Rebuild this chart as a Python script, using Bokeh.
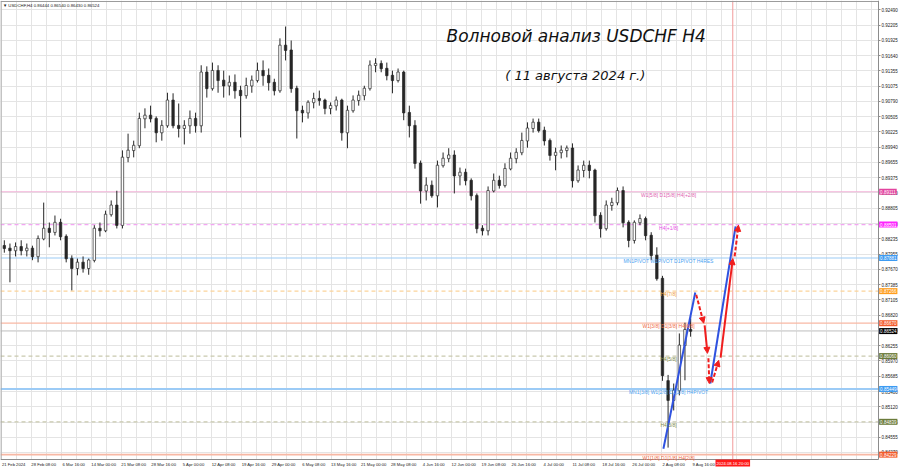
from bokeh.plotting import figure
from bokeh.models import (Range1d, LinearAxis, FixedTicker, PrintfTickFormatter,
                          Label, ColumnDataSource, Arrow, NormalHead)
from bokeh.embed import file_html
from bokeh.resources import INLINE

# ---------------- data (daily OHLC, 6 H4 bars per day) ----------------
BARS_PER_DAY = 6
opens = [0.8811, 0.8806, 0.8802, 0.8809, 0.8802, 0.8806, 0.8791, 0.8824, 0.8843, 0.8836,
         0.8854, 0.8828, 0.8787, 0.8769, 0.8780, 0.8769, 0.8784, 0.8843, 0.8839, 0.8869,
         0.8886, 0.8849, 0.8975, 0.8988, 0.8997, 0.9047, 0.9053, 0.9047, 0.9021, 0.9034,
         0.9081, 0.9034, 0.9029, 0.9034, 0.9047, 0.9034, 0.9133, 0.9103, 0.9136, 0.9118,
         0.9108, 0.9114, 0.9099, 0.9090, 0.9108, 0.9118, 0.9136, 0.9127, 0.9114, 0.9099,
         0.9183, 0.9174, 0.9103, 0.9062, 0.9058, 0.9077, 0.9084, 0.9081, 0.9066, 0.9071,
         0.9081, 0.9021, 0.9062, 0.9081, 0.9090, 0.9103, 0.9146, 0.9149, 0.9140, 0.9127,
         0.9118, 0.9133, 0.9058, 0.9034, 0.8964, 0.8913, 0.8923, 0.8904, 0.8960, 0.8973,
         0.8979, 0.8941, 0.8947, 0.8932, 0.8904, 0.8843, 0.8839, 0.8913, 0.8932, 0.8923,
         0.8954, 0.8973, 0.8984, 0.9006, 0.9029, 0.9040, 0.9025, 0.9006, 0.8979, 0.8984,
         0.8988, 0.8992, 0.8932, 0.8951, 0.8960, 0.8951, 0.8867, 0.8843, 0.8886, 0.8891,
         0.8913, 0.8854, 0.8821, 0.8854, 0.8861, 0.8830, 0.8793, 0.8750, 0.8560, 0.8524,
         0.8542, 0.8626, 0.8655]
highs = [0.8821, 0.8815, 0.8817, 0.8821, 0.8815, 0.8811, 0.8830, 0.8891, 0.8854, 0.8867,
         0.8861, 0.8832, 0.8793, 0.8787, 0.8791, 0.8787, 0.8849, 0.8854, 0.8876, 0.8895,
         0.8913, 0.8988, 0.9019, 0.9006, 0.9058, 0.9066, 0.9071, 0.9051, 0.9044, 0.9095,
         0.9094, 0.9075, 0.9044, 0.9062, 0.9058, 0.9146, 0.9144, 0.9151, 0.9146, 0.9136,
         0.9127, 0.9129, 0.9108, 0.9123, 0.9127, 0.9151, 0.9155, 0.9140, 0.9121, 0.9196,
         0.9218, 0.9192, 0.9108, 0.9071, 0.9081, 0.9095, 0.9099, 0.9084, 0.9077, 0.9088,
         0.9084, 0.9071, 0.9090, 0.9099, 0.9108, 0.9155, 0.9159, 0.9155, 0.9151, 0.9136,
         0.9140, 0.9136, 0.9071, 0.9044, 0.8969, 0.8938, 0.8932, 0.8969, 0.8984, 0.8992,
         0.8988, 0.8956, 0.8954, 0.8936, 0.8908, 0.8849, 0.8921, 0.8945, 0.8941, 0.8964,
         0.8984, 0.8992, 0.9021, 0.9040, 0.9047, 0.9047, 0.9032, 0.9010, 0.8993, 0.8997,
         0.8997, 0.9001, 0.8960, 0.8969, 0.8969, 0.8954, 0.8873, 0.8895, 0.8900, 0.8919,
         0.8921, 0.8858, 0.8858, 0.8869, 0.8865, 0.8836, 0.8808, 0.8755, 0.8571, 0.8555,
         0.8648, 0.8668, 0.8675]
lows = [0.8798, 0.8743, 0.8791, 0.8793, 0.8791, 0.8784, 0.8780, 0.8821, 0.8808, 0.8830,
        0.8821, 0.8780, 0.8728, 0.8756, 0.8761, 0.8757, 0.8780, 0.8828, 0.8836, 0.8865,
        0.8843, 0.8843, 0.8966, 0.8975, 0.8992, 0.9029, 0.9040, 0.9003, 0.9006, 0.9030,
        0.9029, 0.9012, 0.8999, 0.9019, 0.9021, 0.9021, 0.9086, 0.9099, 0.9095, 0.9086,
        0.9090, 0.9084, 0.9012, 0.9084, 0.9095, 0.9114, 0.9108, 0.9099, 0.9090, 0.9095,
        0.9155, 0.9095, 0.9010, 0.9040, 0.9047, 0.9066, 0.9071, 0.9055, 0.9055, 0.9062,
        0.9006, 0.8992, 0.9058, 0.9071, 0.9081, 0.9099, 0.9133, 0.9133, 0.9118, 0.9094,
        0.9114, 0.9044, 0.9012, 0.8954, 0.8889, 0.8895, 0.8900, 0.8882, 0.8956, 0.8966,
        0.8908, 0.8923, 0.8923, 0.8895, 0.8834, 0.8830, 0.8830, 0.8910, 0.8917, 0.8919,
        0.8951, 0.8964, 0.8979, 0.8993, 0.9021, 0.9021, 0.8997, 0.8969, 0.8951, 0.8973,
        0.8975, 0.8919, 0.8928, 0.8938, 0.8936, 0.8854, 0.8826, 0.8839, 0.8876, 0.8886,
        0.8845, 0.8808, 0.8815, 0.8849, 0.8821, 0.8784, 0.8746, 0.8560, 0.8436, 0.8505,
        0.8533, 0.8561, 0.8642]
closes = [0.8806, 0.8802, 0.8809, 0.8802, 0.8806, 0.8791, 0.8824, 0.8843, 0.8836, 0.8854,
          0.8828, 0.8787, 0.8769, 0.8780, 0.8769, 0.8784, 0.8843, 0.8839, 0.8869, 0.8886,
          0.8849, 0.8975, 0.8988, 0.8997, 0.9047, 0.9053, 0.9047, 0.9021, 0.9034, 0.9081,
          0.9034, 0.9029, 0.9034, 0.9047, 0.9034, 0.9133, 0.9103, 0.9136, 0.9118, 0.9108,
          0.9114, 0.9099, 0.9090, 0.9108, 0.9118, 0.9136, 0.9127, 0.9114, 0.9099, 0.9183,
          0.9174, 0.9103, 0.9062, 0.9058, 0.9077, 0.9084, 0.9081, 0.9066, 0.9071, 0.9081,
          0.9021, 0.9062, 0.9081, 0.9090, 0.9103, 0.9146, 0.9149, 0.9140, 0.9127, 0.9118,
          0.9133, 0.9058, 0.9034, 0.8964, 0.8913, 0.8923, 0.8904, 0.8960, 0.8973, 0.8979,
          0.8941, 0.8947, 0.8932, 0.8904, 0.8843, 0.8839, 0.8913, 0.8932, 0.8923, 0.8954,
          0.8973, 0.8984, 0.9006, 0.9029, 0.9040, 0.9025, 0.9006, 0.8979, 0.8984, 0.8988,
          0.8992, 0.8932, 0.8951, 0.8960, 0.8951, 0.8867, 0.8843, 0.8886, 0.8891, 0.8913,
          0.8854, 0.8821, 0.8854, 0.8861, 0.8830, 0.8793, 0.8750, 0.8570, 0.8524, 0.8542,
          0.8626, 0.8655, 0.86524]

# time axis: labels every 32 H4 bars, grid every 16 bars
xtick_bars = [0, 32, 64, 96, 128, 160, 192, 224, 256, 288, 320, 352, 384, 416, 448, 480,
              512, 544, 576, 608, 640, 672, 704, 736]
xtick_labels = ["21 Feb 2024", "28 Feb 08:00", "6 Mar 16:00", "14 Mar 00:00", "21 Mar 08:00",
                "28 Mar 16:00", "5 Apr 00:00", "12 Apr 08:00", "19 Apr 16:00", "29 Apr 00:00",
                "6 May 08:00", "13 May 16:00", "21 May 00:00", "28 May 08:00", "4 Jun 16:00",
                "12 Jun 00:00", "19 Jun 08:00", "26 Jun 16:00", "4 Jul 00:00", "11 Jul 08:00",
                "18 Jul 16:00", "26 Jul 00:00", "2 Aug 08:00", "9 Aug 16:00"]
ytick_vals = [0.92490, 0.92205, 0.91925, 0.91640, 0.91355, 0.91075, 0.90790, 0.90505, 0.90225,
              0.89940, 0.89655, 0.89375, 0.89090, 0.88805, 0.88520, 0.88235, 0.87955, 0.87670,
              0.87385, 0.87105, 0.86820, 0.86535, 0.86255, 0.85970, 0.85685, 0.85400, 0.85120,
              0.84835, 0.84555, 0.84270]

# Murrey / pivot levels
level_prices = [0.89111, 0.88501, 0.87881, 0.87266, 0.86670, 0.86060, 0.85449, 0.84839, 0.84229]
level_names = ["W1[5/8] D1[5/8] H4[+2/8]", "H4[+1/8]", "MN1PIVOT W1PIVOT D1PIVOT H4RES",
               "H4[7/8]", "W1[3/8] D1[3/8] H4[6/8]", "H4[5/8]",
               "MN1[3/8] W1[2/8] D1[2/8] H4PIVOT", "H4[3/8]", "W1[1/8] D1[1/8] H4[2/8]"]
level_dashed = [False, True, False, True, False, True, False, True, False]
level_widths = [1.2, 1.2, 1.2, 1.2, 1.2, 1.2, 2.0, 1.2, 1.6]
level_line_colors = ["#f3b3d9", "#f2a6f2", "#9ccbf6", "#fbd49a", "#f8b8a4", "#c9c9ae",
                     "#9ccbf6", "#c9c9ae", "#f8b8a4"]
level_box_colors = ["#e3449f", "#ff22ff", "#3d9bf2", "#ff9d1e", "#f35b2c", "#6b7b3b",
                    "#3d9bf2", "#6b7b3b", "#f35b2c"]
level_text_colors = ["#e060b0", "#e64ce6", "#4aa2f2", "#f0a040", "#f06a44", "#7d8a4a",
                     "#4aa2f2", "#7d8a4a", "#f06a44"]
bid_price = 0.86524
future_time_bar = 780
future_time_label = "2024.08.16 20:00"

# analyst's forecast (bar index, price)
blue_x0 = [706, 756]
blue_y0 = [0.8434, 0.8555]
blue_x1 = [740, 783]
blue_y1 = [0.8724, 0.8847]
red_x0 = [741, 750, 754, 758, 767, 782]
red_y0 = [0.8720, 0.8663, 0.8602, 0.8557, 0.8603, 0.8791]
red_x1 = [749, 753, 755, 765, 780, 786]
red_y1 = [0.8667, 0.8611, 0.8555, 0.8598, 0.8787, 0.8849]
red_dashed = [True, False, True, True, False, True]

# ---------------- figure (frame = whole canvas, axes placed at fixed locations) ----------------
X0, X1 = -1.07, 958.9      # whole canvas width in H4-bar units
XA = 935.5                 # price scale position
Y0, Y1 = 0.83972, 0.92663  # whole canvas height in price units
YA = 0.84139               # time scale position
p = figure(width=900, height=468, x_range=Range1d(X0, X1), y_range=Range1d(Y0, Y1),
           y_axis_location="right", output_backend="svg", toolbar_location=None,
           min_border_left=0, min_border_right=0, min_border_top=0, min_border_bottom=0)
p.background_fill_color = "white"
p.border_fill_color = "white"
p.outline_line_color = None

# grid
p.xaxis.visible = False
p.xgrid.ticker = FixedTicker(ticks=list(range(0, 936, 16)))
p.xgrid.grid_line_color = "#e4e4e4"
p.ygrid.grid_line_color = "#e4e4e4"

# right price axis
ya = p.yaxis[0]
ya.fixed_location = XA
ya.bounds = (YA, Y1)
ya.ticker = FixedTicker(ticks=ytick_vals)
ya.formatter = PrintfTickFormatter(format="%.5f")
ya.major_label_text_font_size = "4.5px"
ya.major_label_text_font = "Liberation Sans"
ya.major_label_text_color = "#202020"
ya.axis_line_color = "#8c8c8c"
ya.major_tick_line_color = "#8c8c8c"
ya.major_tick_out = 2
ya.major_tick_in = 0
ya.minor_tick_line_color = None
ya.major_label_standoff = 1

# bottom time axis (labels start at their tick like MT4 -> shifted range)
SHIFT = 13
p.extra_x_ranges = {"lab": Range1d(X0 - SHIFT, X1 - SHIFT)}
xa = LinearAxis(x_range_name="lab", ticker=FixedTicker(ticks=xtick_bars),
                major_label_overrides={t: l for t, l in zip(xtick_bars, xtick_labels)})
xa.fixed_location = YA
xa.bounds = (X0 - SHIFT, XA - SHIFT)
xa.major_label_text_font_size = "4.2px"
xa.major_label_text_font = "Liberation Sans"
xa.major_label_text_color = "#202020"
xa.axis_line_color = "#8c8c8c"
xa.major_tick_line_color = None
xa.major_tick_out = 0
xa.major_tick_in = 0
xa.minor_tick_line_color = None
xa.minor_tick_out = 0
xa.major_label_standoff = 2
p.add_layout(xa, "below")

# level lines
for pr, dsh, lc, lw in zip(level_prices, level_dashed, level_line_colors, level_widths):
    p.segment(x0=X0, y0=pr, x1=XA, y1=pr, line_color=lc, line_width=lw,
              line_dash="4 3" if dsh else "solid")
p.segment(x0=X0, y0=bid_price, x1=XA, y1=bid_price, line_color="#cccccc", line_width=1)
p.segment(x0=future_time_bar, y0=YA, x1=future_time_bar, y1=Y1, line_color="#f29a9a",
          line_width=1)

# candles
xc = [BARS_PER_DAY * i + BARS_PER_DAY / 2 for i in range(len(opens))]
src = ColumnDataSource(dict(
    x=xc, o=opens, h=highs, l=lows, c=closes,
    top=[max(o, c) + 0.00004 for o, c in zip(opens, closes)],
    bot=[min(o, c) - 0.00004 for o, c in zip(opens, closes)],
    fill=["#ffffff" if c >= o else "#262626" for o, c in zip(opens, closes)],
))
p.segment("x", "h", "x", "l", source=src, line_color="#262626", line_width=1)
p.vbar(x="x", width=2.6, top="top", bottom="bot", source=src, fill_color="fill",
       line_color="#262626", line_width=0.7)

# forecast lines
for a, b, c, d in zip(blue_x0, blue_y0, blue_x1, blue_y1):
    p.line([a, c], [b, d], line_color="#2f52e0", line_width=2)

# blank scale areas (hide grid there), then chart border
p.quad(left=XA, right=X1, bottom=Y0, top=Y1, fill_color="white", line_color=None)
p.quad(left=X0, right=X1, bottom=Y0, top=YA, fill_color="white", line_color=None)
p.segment(x0=X0, y0=0.92645, x1=XA, y1=0.92645, line_color="#9a9a9a", line_width=1)
p.segment(x0=-0.6, y0=YA, x1=-0.6, y1=0.92645, line_color="#9a9a9a", line_width=1)

for a, b, c, d, dsh in zip(red_x0, red_y0, red_x1, red_y1, red_dashed):
    p.add_layout(Arrow(x_start=a, y_start=b, x_end=c, y_end=d, line_color="#f01e1e",
                       line_width=2, line_dash="4 2" if dsh else "solid",
                       end=NormalHead(size=6, fill_color="#f01e1e", line_color="#f01e1e")))

# level texts inside chart
for pr, nm, tc in zip(level_prices, level_names, level_text_colors):
    p.add_layout(Label(x=711.5, y=pr, text=nm, text_align="center", text_baseline="top",
                       text_font_size="5px", text_font="Liberation Sans", text_color=tc))

# price boxes on the price scale
for pr, bc in zip(level_prices, level_box_colors):
    p.add_layout(Label(x=XA + 0.6, y=pr, text=f"{pr:.5f}", text_align="left",
                       text_baseline="middle", text_font_size="4.5px",
                       text_font="Liberation Sans", text_color="white",
                       background_fill_color=bc, padding=1))
p.add_layout(Label(x=XA + 0.6, y=bid_price, text=f"{bid_price:.5f}", text_align="left",
                   text_baseline="middle", text_font_size="4.5px", text_font="Liberation Sans",
                   text_color="white", background_fill_color="#000000", padding=1))
p.add_layout(Label(x=future_time_bar, y=YA, text=future_time_label, text_align="center",
                   text_baseline="top", text_font_size="4.2px", text_font="Liberation Sans",
                   text_color="white", background_fill_color="#ff1a1a", padding=1))

# header and titles
p.add_layout(Label(x=1.5, y=0.92615, text="\u25bc USDCHF,H4  0.86444 0.86540 0.86430 0.86524",
                   text_align="left", text_baseline="top", text_font_size="4.3px",
                   text_font="Liberation Sans", text_color="#202020"))
p.add_layout(Label(x=613, y=0.9201, text="Волновой анализ USDCHF H4", text_align="center",
                   text_baseline="middle", text_font_size="17px", text_font="DejaVu Sans",
                   text_font_style="italic", text_color="#111111"))
p.add_layout(Label(x=612, y=0.9127, text="( 11 августа 2024 г.)", text_align="center",
                   text_baseline="middle", text_font_size="13px", text_font="DejaVu Sans",
                   text_font_style="italic", text_color="#111111"))

open("out.html", "w").write(file_html(p, INLINE))
